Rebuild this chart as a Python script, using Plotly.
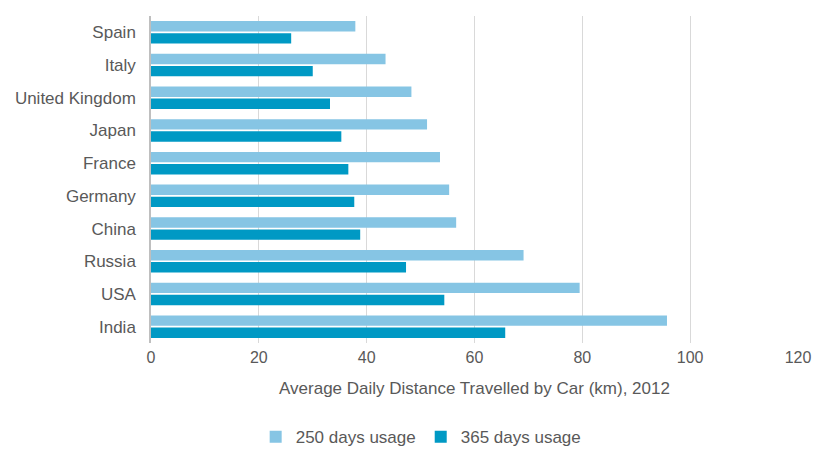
import plotly.graph_objects as go

# Countries listed top to bottom
countries = ["Spain", "Italy", "United Kingdom", "Japan", "France",
             "Germany", "China", "Russia", "USA", "India"]

# Average daily distance travelled by car (km), 2012
usage_250 = [37.9, 43.5, 48.3, 51.2, 53.6, 55.3, 56.6, 69.1, 79.5, 95.7]
usage_365 = [26.0, 30.0, 33.2, 35.3, 36.6, 37.7, 38.8, 47.3, 54.4, 65.7]

x_ticks = [0, 20, 40, 60, 80, 100, 120]

light_blue = "#86C5E4"
dark_blue = "#0099C4"
text_grey = "#595959"
font_family = "Liberation Sans, Arial, sans-serif"

fig = go.Figure()
fig.add_trace(go.Bar(
    y=countries, x=usage_250, orientation="h",
    name="250 days usage", marker=dict(color=light_blue, line=dict(width=0)),
))
fig.add_trace(go.Bar(
    y=countries, x=usage_365, orientation="h",
    name="365 days usage", marker=dict(color=dark_blue, line=dict(width=0)),
))

fig.update_layout(
    width=821, height=453,
    margin=dict(l=151, r=23, t=16, b=110, autoexpand=False),
    paper_bgcolor="white", plot_bgcolor="white",
    barmode="group", bargap=0.26, bargroupgap=0.14,
    font=dict(family=font_family, size=16, color=text_grey),
    legend=dict(orientation="h", xref="container", x=0.513, xanchor="center",
                yref="container", y=0.035, yanchor="middle",
                traceorder="normal", font=dict(size=17, color=text_grey),
                itemwidth=30, itemclick=False),
    xaxis=dict(
        range=[0, 120], tickvals=x_ticks, ticktext=[str(v) for v in x_ticks],
        showgrid=True, gridcolor="#D9D9D9", gridwidth=1,
        zeroline=False, showline=False, ticks="", ticklabelstandoff=3,
        tickfont=dict(size=16, color=text_grey),
        title=dict(text="Average Daily Distance Travelled by Car (km), 2012",
                   font=dict(size=17, color=text_grey), standoff=17),
    ),
    yaxis=dict(
        categoryorder="array", categoryarray=countries, autorange="reversed",
        showline=True, linecolor="#BFBFBF", linewidth=1.5,
        showgrid=False, ticks="", ticklabelstandoff=10,
        tickfont=dict(size=17, color=text_grey),
    ),
)

fig.write_html("out.html")
